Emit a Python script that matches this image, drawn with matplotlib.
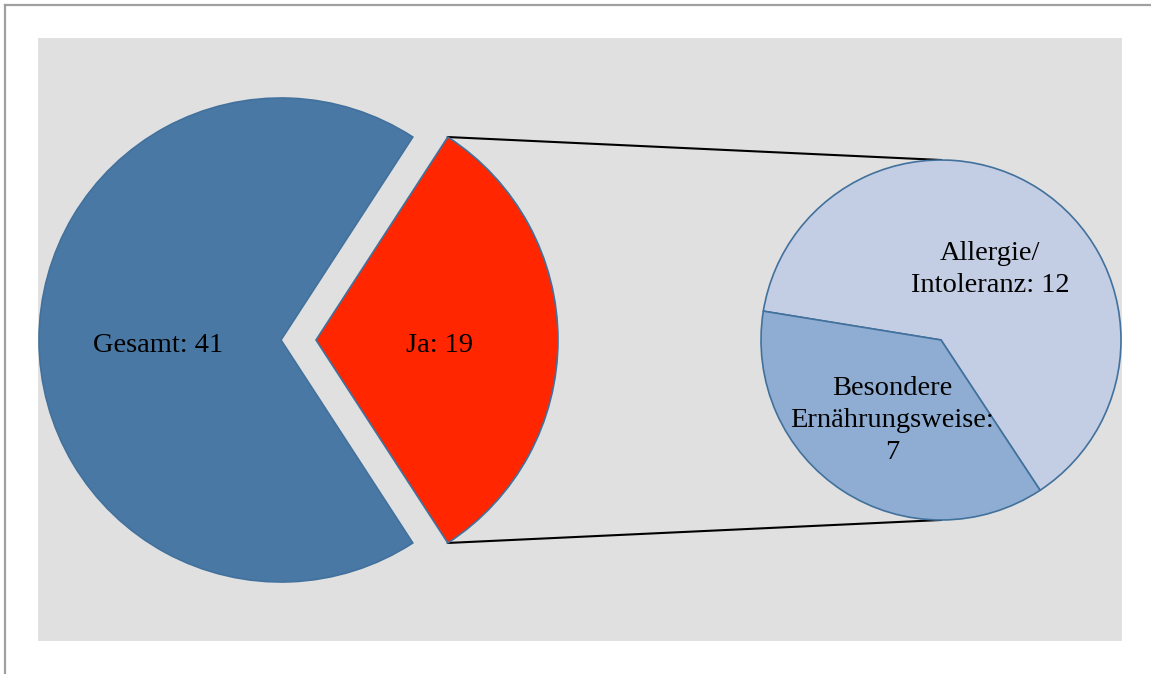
import numpy as np
import matplotlib.pyplot as plt
from matplotlib.lines import Line2D
from matplotlib.transforms import offset_copy

# data
main_labels = ["Ja", "Gesamt"]
main_values = [19, 41]
sub_labels = ["Allergie/\nIntoleranz", "Besondere\nErnährungsweise"]
sub_seps = [": ", ":\n"]
sub_values = [12, 7]

plt.rcParams['font.family'] = ['Liberation Serif', 'DejaVu Serif']

W, H = 1151, 674
fig = plt.figure(figsize=(W / 100, H / 100), dpi=100)
fig.patch.set_facecolor('white')

# plot area (pixel units inside)
ax_x0, ax_y0, ax_w, ax_h = 38, 33, 1084, 603
ax = fig.add_axes([ax_x0 / W, ax_y0 / H, ax_w / W, ax_h / H])

edge = '#41719C'
r1 = 242
c1 = (243, 301)
r2 = 180
c2 = (903, 301)

ja_angle = main_values[0] / sum(main_values) * 360
start1 = -ja_angle / 2
explode_px = 35  # pie's explode is in data units

txt = dict(fontsize=20.5, ha='center', va='center', color='black', linespacing=1.35)

lbl1 = [f"{n}: {v}" for n, v in zip(main_labels, main_values)]
_, t1 = ax.pie(main_values, labels=lbl1, colors=['#FF2600', '#4A78A5'],
               startangle=start1, counterclock=True, radius=r1, center=c1,
               explode=[explode_px, 0], labeldistance=0.51,
               wedgeprops=dict(edgecolor=edge, linewidth=1.2),
               textprops=txt)

lbl2 = [f"{n}{s}{v}" for n, s, v in zip(sub_labels, sub_seps, sub_values)]
_, t2 = ax.pie(sub_values, labels=lbl2, colors=['#C3CDE3', '#8FADD2'],
               startangle=-56.6, counterclock=True, radius=r2, center=c2,
               labeldistance=0.5,
               wedgeprops=dict(edgecolor=edge, linewidth=1.2),
               textprops=txt)

# nudge labels down a bit (serif metrics differ from the original font)
for t in list(t1) + list(t2):
    t.set_transform(offset_copy(ax.transData, fig=fig, x=0, y=-5, units='dots'))

# connector lines from the exploded wedge tips to the top/bottom of the second pie
half = np.deg2rad(ja_angle / 2)
rc = (c1[0] + explode_px, c1[1])
for sgn in (1, -1):
    tip = (rc[0] + r1 * np.cos(half), rc[1] + sgn * r1 * np.sin(half))
    end = (c2[0], c2[1] + sgn * r2)
    ax.plot([tip[0], end[0]], [tip[1], end[1]], color='black', lw=1.5, zorder=0.5)

ax.set_xlim(0, ax_w)
ax.set_ylim(0, ax_h)
ax.set_aspect('auto')
ax.set_frame_on(True)
ax.patch.set_visible(True)
ax.set_facecolor('#E0E0E0')
for s in ax.spines.values():
    s.set_visible(False)
ax.set_xticks([])
ax.set_yticks([])

# outer border (top and left)
fig.add_artist(Line2D([4.5 / W, 1], [1 - 4.5 / H, 1 - 4.5 / H], color='#A0A0A0', lw=1.6))
fig.add_artist(Line2D([4.5 / W, 4.5 / W], [0, 1 - 4.5 / H], color='#A0A0A0', lw=1.6))

fig.savefig('out.png', dpi=100, facecolor='white')
